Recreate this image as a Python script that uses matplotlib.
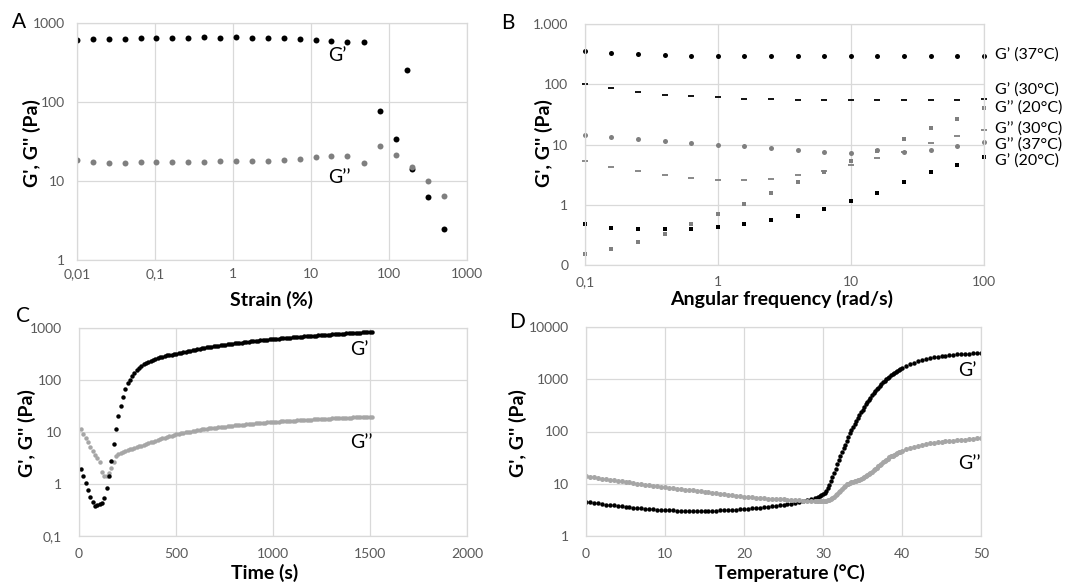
import matplotlib
matplotlib.use('Agg')
import matplotlib.pyplot as plt
from matplotlib.ticker import FixedLocator, FixedFormatter, NullLocator

plt.rcParams['font.family'] = ['Lato', 'DejaVu Sans']

# ---------------- A: strain sweep ----------------
strain_gp = [0.01, 0.016, 0.0257, 0.0408, 0.0655, 0.104, 0.167, 0.267, 0.429, 0.681,
             1.09, 1.75, 2.78, 4.47, 7.16, 11.5, 18.2, 29.2, 47.8, 75.9,
             121.7, 170, 199, 319, 512]
gp_strain = [617, 630, 630, 630, 637, 643, 650, 650, 656, 650,
             663, 650, 650, 637, 624, 605, 587, 581, 581, 76,
             34, 256, 14.2, 6.2, 2.5]
strain_gpp = [0.01, 0.016, 0.0257, 0.0408, 0.0655, 0.104, 0.167, 0.267, 0.429, 0.681,
              1.09, 1.75, 2.78, 4.47, 7.16, 11.5, 18.2, 29.2, 47.8, 75.9,
              121.7, 199, 319, 512]
gpp_strain = [18.4, 17.5, 16.9, 16.9, 17.2, 17.2, 17.2, 17.5, 17.5, 17.7,
              17.7, 17.7, 18.1, 18.3, 18.8, 19.9, 20.8, 20.6, 16.7, 27.6,
              21.2, 14.9, 10.0, 6.5]

# ---------------- B: frequency sweep ----------------
freq = [0.1, 0.158, 0.251, 0.398, 0.631, 1, 1.58, 2.51, 3.98, 6.31,
        10, 15.8, 25.1, 39.8, 63.1, 100]
gp_37 = [355, 333, 320, 308, 296, 296, 292, 292, 292, 292, 292, 292, 292, 292, 292, 295]
gp_30 = [102, 88, 75, 67, 63, 61, 58, 56, 55, 54, 54, 54, 54, 55, 55, 57]
gpp_20 = [0.153, 0.186, 0.243, 0.33, 0.48, 0.71, 1.04, 1.57, 2.36, 3.55,
          5.4, 7.9, 12.4, 18.7, 26.8, 40.4]
gpp_30 = [5.3, 4.2, 3.6, 3.07, 2.77, 2.6, 2.6, 2.68, 3.12, 3.6,
          4.64, 6.0, 7.5, 10.7, 13.6, 17.1]
gpp_37 = [14.6, 13.3, 12.3, 11.5, 10.7, 10.0, 9.4, 8.75, 8.15, 7.6,
          7.35, 8.1, 7.45, 8.0, 9.5, 10.9]
gp_20 = [0.483, 0.415, 0.39, 0.395, 0.395, 0.425, 0.483, 0.56, 0.656, 0.85,
         1.17, 1.56, 2.42, 3.55, 4.6, 6.15]
freq_labels = ["G\u2019 (37°C)", "G\u2019 (30°C)", "G\u2019\u2019 (20°C)",
               "G\u2019\u2019 (30°C)", "G\u2019\u2019 (37°C)", "G\u2019 (20°C)"]
freq_label_y = [310, 82, 41, 18.2, 9.8, 5.5]

# ---------------- C: time sweep ----------------
time_s = [10, 22, 34, 46, 58, 70, 82, 94, 106, 118, 130, 142, 154, 166, 178, 190,
          202, 214, 226, 238, 250, 262, 274, 286, 298, 310, 322, 334, 346, 358, 370,
          382, 394, 406, 418, 430, 442, 454, 466, 478, 490, 502, 514, 526, 538, 550,
          562, 574, 586, 598, 610, 622, 634, 646, 658, 670, 682, 694, 706, 718, 730,
          742, 754, 766, 778, 790, 802, 814, 826, 838, 850, 862, 874, 886, 898, 910,
          922, 934, 946, 958, 970, 982, 994, 1006, 1018, 1030, 1042, 1054, 1066, 1078,
          1090, 1102, 1114, 1126, 1138, 1150, 1162, 1174, 1186, 1198, 1210, 1222, 1234,
          1246, 1258, 1270, 1282, 1294, 1306, 1318, 1330, 1342, 1354, 1366, 1378, 1390,
          1402, 1414, 1426, 1438, 1450, 1462, 1474, 1486, 1498, 1510]
gp_time = [1.95, 1.45, 1.05, 0.78, 0.57, 0.45, 0.37, 0.39, 0.42, 0.43,
           0.55, 0.84, 1.45, 2.8, 6.0, 11.5, 20, 32, 47, 67,
           88, 101, 119, 138, 155, 172, 186, 199, 212, 224,
           235, 246, 257, 266, 274, 282, 289, 296, 302, 308,
           313, 318, 326, 334, 343, 351, 359, 367, 375, 384,
           391, 399, 407, 414, 422, 430, 438, 446, 453, 460,
           466, 473, 480, 487, 494, 500, 506, 513, 520, 526,
           533, 539, 546, 552, 559, 565, 571, 577, 583, 589,
           595, 601, 607, 613, 619, 625, 631, 636, 642, 648,
           653, 659, 664, 670, 676, 681, 687, 692, 698, 703,
           709, 714, 720, 725, 731, 736, 742, 747, 753, 758,
           763, 769, 774, 779, 785, 790, 795, 800, 806, 811,
           816, 821, 826, 831, 836, 841]
gpp_time = [11.2, 9.0, 7.5, 6.3, 5.2, 4.3, 3.6, 3.1, 2.6, 1.7,
            1.4, 1.45, 1.6, 2.0, 2.7, 3.4, 3.7, 3.95, 4.15, 4.35,
            4.5, 4.65, 4.8, 4.95, 5.1, 5.3, 5.5, 5.7, 5.9, 6.1,
            6.3, 6.55, 6.8, 7.0, 7.25, 7.5, 7.7, 7.95, 8.2, 8.4,
            8.7, 9.0, 9.2, 9.4, 9.6, 9.8, 10.0, 10.2, 10.4, 10.6,
            10.8, 11.0, 11.2, 11.4, 11.55, 11.7, 11.85, 12.0, 12.15, 12.3,
            12.45, 12.6, 12.75, 12.9, 13.05, 13.2, 13.35, 13.5, 13.65, 13.8,
            13.9, 14.05, 14.2, 14.3, 14.45, 14.6, 14.7, 14.85, 15.0, 15.1,
            15.25, 15.35, 15.5, 15.6, 15.7, 15.85, 15.95, 16.05, 16.2, 16.3,
            16.4, 16.5, 16.6, 16.7, 16.85, 16.95, 17.05, 17.15, 17.25, 17.35,
            17.45, 17.55, 17.65, 17.75, 17.85, 17.95, 18.05, 18.15, 18.25, 18.35,
            18.4, 18.5, 18.6, 18.7, 18.8, 18.85, 18.95, 19.05, 19.1, 19.2,
            19.3, 19.35, 19.45, 19.5, 19.6, 19.65]

# ---------------- D: temperature ramp ----------------
temp_c = [0, 0.5, 1, 1.5, 2, 2.5, 3, 3.5, 4, 4.5, 5, 5.5, 6, 6.5, 7, 7.5, 8, 8.5, 9, 9.5,
          10, 10.5, 11, 11.5, 12, 12.5, 13, 13.5, 14, 14.5, 15, 15.5, 16, 16.5, 17, 17.5,
          18, 18.5, 19, 19.5, 20, 20.5, 21, 21.5, 22, 22.5, 23, 23.5, 24, 24.5, 25, 25.5,
          26, 26.5, 27, 27.5, 28, 28.5, 29,
          29.2, 29.4, 29.6, 29.8, 30.0, 30.2, 30.4, 30.6, 30.8, 31.0,
          31.2, 31.4, 31.6, 31.8, 32.0, 32.2, 32.4, 32.6, 32.8, 33.0,
          33.2, 33.4, 33.6, 33.8, 34.0, 34.2, 34.4, 34.6, 34.8, 35.0,
          35.2, 35.4, 35.6, 35.8, 36.0, 36.2, 36.4, 36.6, 36.8, 37.0,
          37.2, 37.4, 37.6, 37.8, 38.0, 38.2, 38.4, 38.6, 38.8, 39.0,
          39.2, 39.4, 39.6, 39.8, 40.0,
          40.5, 41, 41.5, 42, 42.5, 43, 43.5, 44, 44.5, 45, 45.5, 46, 46.5, 47, 47.5,
          48, 48.5, 49, 49.5, 50]
gp_temp = [4.5, 4.4, 4.3, 4.2, 4.1, 4.0, 3.9, 3.85, 3.8, 3.7,
           3.65, 3.6, 3.5, 3.45, 3.4, 3.35, 3.3, 3.25, 3.2, 3.2,
           3.15, 3.1, 3.1, 3.05, 3.05, 3.0, 3.0, 3.0, 3.0, 3.0,
           3.0, 3.0, 3.05, 3.05, 3.1, 3.1, 3.15, 3.2, 3.2, 3.25,
           3.3, 3.35, 3.4, 3.45, 3.5, 3.55, 3.6, 3.7, 3.75, 3.85,
           3.95, 4.05, 4.15, 4.3, 4.45, 4.6, 4.8, 5.0, 5.3,
           5.4, 5.6, 5.8, 6.0, 6.3, 6.8, 7.4, 8.3, 9.5, 11.2,
           13.5, 16.2, 19.5, 23.4, 28.2, 33.9, 40.7, 47.9, 56.2, 66.1,
           79.4, 93, 107, 123, 141, 162, 182, 209, 234, 263,
           295, 331, 363, 407, 447, 490, 537, 589, 646, 692,
           759, 813, 871, 933, 1000, 1070, 1120, 1200, 1260, 1320,
           1380, 1450, 1510, 1580, 1660,
           1820, 1950, 2090, 2240, 2340, 2450, 2570, 2630, 2690, 2750,
           2820, 2880, 2950, 2990, 3020, 3050, 3090, 3130, 3160, 3200]
gpp_temp = [13.8, 13.5, 13.2, 12.9, 12.6, 12.3, 12.0, 11.7, 11.4, 11.1,
            10.8, 10.6, 10.3, 10.1, 9.8, 9.6, 9.4, 9.2, 9.0, 8.8,
            8.6, 8.4, 8.25, 8.1, 7.9, 7.75, 7.6, 7.45, 7.3, 7.15,
            7.0, 6.85, 6.7, 6.55, 6.4, 6.3, 6.15, 6.0, 5.9, 5.75,
            5.6, 5.55, 5.5, 5.4, 5.35, 5.3, 5.2, 5.15, 5.1, 5.05,
            5.0, 4.95, 4.9, 4.85, 4.8, 4.75, 4.7, 4.68, 4.65,
            4.63, 4.62, 4.6, 4.6, 4.6, 4.62, 4.68, 4.78, 4.9, 5.1,
            5.35, 5.65, 6.0, 6.4, 6.9, 7.4, 8.0, 8.6, 9.2, 9.7,
            10.1, 10.4, 10.7, 10.9, 11.1, 11.3, 11.6, 11.9, 12.3, 12.8,
            13.3, 13.9, 14.6, 15.4, 16.2, 17.1, 18.1, 19.2, 20.4, 21.7,
            23.0, 24.4, 25.8, 27.3, 28.8, 30.3, 31.8, 33.3, 34.7, 36.1,
            37.4, 38.7, 40.0, 41.2, 42.4,
            45.3, 48.0, 50.6, 53.0, 55.2, 57.2, 59.0, 60.6, 62.0, 63.3,
            64.5, 65.6, 66.7, 67.8, 69.0, 70.2, 71.5, 72.8, 74.2, 75.5]

W, H = 1065, 583
fig = plt.figure(figsize=(W / 100, H / 100), dpi=100)

GRID = '#d9d9d9'
TICK = '#595959'


def add_ax(l, t, r, b):
    return fig.add_axes([l / W, 1 - b / H, (r - l) / W, (b - t) / H])


def style(ax, xlog, xlim, xt, xl, ylim, yt, yl, xpad=6, ypad=9):
    if xlog:
        ax.set_xscale('log')
    ax.set_yscale('log')
    ax.set_xlim(*xlim)
    ax.set_ylim(*ylim)
    ax.xaxis.set_major_locator(FixedLocator(xt))
    ax.xaxis.set_major_formatter(FixedFormatter(xl))
    ax.yaxis.set_major_locator(FixedLocator(yt))
    ax.yaxis.set_major_formatter(FixedFormatter(yl))
    ax.xaxis.set_minor_locator(NullLocator())
    ax.yaxis.set_minor_locator(NullLocator())
    ax.grid(True, color=GRID, lw=0.9)
    ax.set_axisbelow(True)
    for s in ax.spines.values():
        s.set_color(GRID)
        s.set_linewidth(0.9)
    ax.tick_params(axis='x', length=0, labelsize=10, labelcolor=TICK, pad=xpad)
    ax.tick_params(axis='y', length=0, labelsize=10, labelcolor=TICK, pad=ypad)


def ftext(x, y, s, **kw):
    fig.text(x / W, 1 - y / H, s, ha='center', va='center', **kw)


# A
axA = add_ax(77, 23, 467, 260)
axA.plot(strain_gp, gp_strain, 'o', color='black', ms=4.3, mew=0)
axA.plot(strain_gpp, gpp_strain, 'o', color='#7f7f7f', ms=4.3, mew=0)
style(axA, True, (0.01, 1000), [0.01, 0.1, 1, 10, 100, 1000],
      ['0,01', '0,1', '1', '10', '100', '1000'],
      (1, 1000), [1, 10, 100, 1000], ['1', '10', '100', '1000'])
axA.text(16.5, 390, 'G\u2019', fontsize=14, va='center', ha='left')
axA.text(16.5, 11.2, 'G\u2019\u2019', fontsize=14, va='center', ha='left')

# B
axB = add_ax(585, 24, 984, 265)
axB.plot(freq, gp_37, 'o', color='black', ms=3.6, mew=0, clip_on=False)
axB.plot(freq, gp_30, '_', color='black', ms=3.7, mew=1.3, clip_on=False)
axB.plot(freq, gpp_20, 's', color='#7f7f7f', ms=3.5, mew=0, clip_on=False)
axB.plot(freq, gpp_30, '_', color='#7f7f7f', ms=3.7, mew=1.3, clip_on=False)
axB.plot(freq, gpp_37, 'o', color='#7f7f7f', ms=3.6, mew=0, clip_on=False)
axB.plot(freq, gp_20, 's', color='black', ms=3.5, mew=0, clip_on=False)
style(axB, True, (0.1, 100), [0.1, 1, 10, 100], ['0,1', '1', '10', '100'],
      (0.1, 1000), [0.1, 1, 10, 100, 1000], ['0', '1', '10', '100', '1.000'],
      xpad=8, ypad=12)
for lab, yv in zip(freq_labels, freq_label_y):
    axB.text(1.028, yv, lab, transform=axB.get_yaxis_transform(),
             fontsize=11.5, va='center', ha='left')

# C
axC = add_ax(79, 328, 467, 536)
axC.plot(time_s, gpp_time, 'o', color='#a6a6a6', ms=3.2, mew=0)
axC.plot(time_s, gp_time, 'o', color='black', ms=3.2, mew=0)
style(axC, False, (0, 2000), [0, 500, 1000, 1500, 2000],
      ['0', '500', '1000', '1500', '2000'],
      (0.1, 1000), [0.1, 1, 10, 100, 1000], ['0,1', '1', '10', '100', '1000'],
      xpad=9, ypad=12)
axC.text(1400, 380, 'G\u2019', fontsize=14, va='center', ha='left')
axC.text(1400, 6.4, 'G\u2019\u2019', fontsize=14, va='center', ha='left')

# D
axD = add_ax(586, 327, 981, 536)
axD.plot(temp_c, gp_temp, 'o', color='black', ms=3.2, mew=0)
axD.plot(temp_c, gpp_temp, 'o', color='#a6a6a6', ms=3.6, mew=0)
style(axD, False, (0, 50), [0, 10, 20, 30, 40, 50],
      ['0', '10', '20', '30', '40', '50'],
      (1, 10000), [1, 10, 100, 1000, 10000], ['1', '10', '100', '1000', '10000'],
      xpad=9, ypad=12)
axD.text(47.1, 1480, 'G\u2019', fontsize=14, va='center', ha='left')
axD.text(47.1, 24.5, 'G\u2019\u2019', fontsize=14, va='center', ha='left')

# axis titles and panel letters
bold = dict(fontsize=14, fontweight='bold')
ftext(272, 300, 'Strain (%)', **bold)
ftext(782, 299, 'Angular frequency (rad/s)', **bold)
ftext(265, 573, 'Time (s)', **bold)
ftext(790, 573, 'Temperature (°C)', **bold)
for x, y in [(32, 143), (544, 143), (27, 433), (518, 433)]:
    ftext(x, y, "G', G'' (Pa)", rotation=90, **bold)
for x, y, s in [(19, 22, 'A'), (508, 23, 'B'), (23, 316, 'C'), (517, 322, 'D')]:
    ftext(x, y, s, fontsize=15)

fig.savefig('out.png', dpi=100)
